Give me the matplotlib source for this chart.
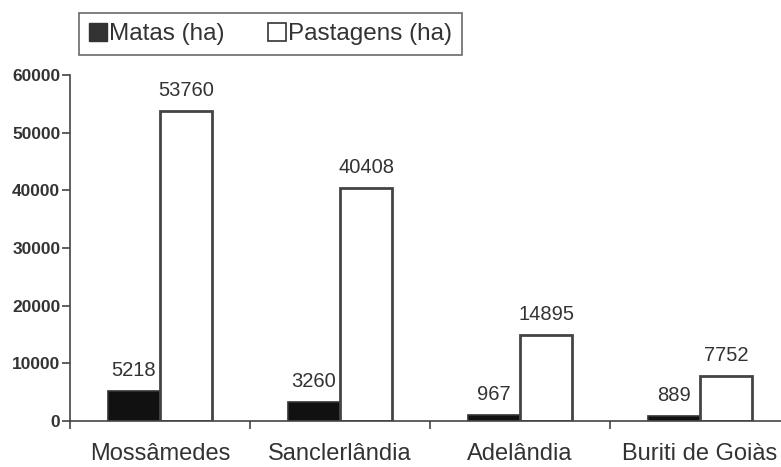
import matplotlib
matplotlib.use("Agg")
import matplotlib.pyplot as plt
from matplotlib.patches import Patch
import numpy as np

categories = ["Mossâmedes", "Sanclerlândia", "Adelândia", "Buriti de Goiàs"]
matas = [5218, 3260, 967, 889]
pastagens = [53760, 40408, 14895, 7752]
yticks = [0, 10000, 20000, 30000, 40000, 50000, 60000]

plt.rcParams["font.family"] = ["Liberation Sans", "DejaVu Sans"]

TXT = "#333333"
LINE = "#444444"

fig = plt.figure(figsize=(7.81, 4.67), dpi=100)
ax = fig.add_axes([70/781, 1-421/467, 720/781, 346/467])

x = np.arange(len(categories))
w = 0.29
b1 = ax.bar(x - w/2, matas, w, color="#111111", edgecolor="#333333", linewidth=1.2)
b2 = ax.bar(x + w/2, pastagens, w, color="white", edgecolor=LINE, linewidth=2)

for bars, vals in ((b1, matas), (b2, pastagens)):
    for rect, v in zip(bars, vals):
        ax.annotate(str(v), (rect.get_x() + rect.get_width()/2, v), xytext=(0, 15),
                    textcoords="offset points", ha="center", va="center",
                    fontsize=14.5, color=TXT)

ax.set_xlim(-0.5, 3.5)
ax.set_ylim(0, 60000)
ax.set_yticks(yticks)
ax.set_yticklabels([str(t) for t in yticks], fontsize=12.5, fontweight="bold", color=TXT)
ax.set_xticks(x)
ax.set_xticklabels(categories, fontsize=17, color=TXT)
ax.tick_params(axis="x", length=0, pad=16)
ax.set_xticks(np.arange(-0.5, 3.6, 1.0), minor=True)
ax.tick_params(axis="x", which="minor", length=6, width=1.2, color=LINE, direction="out")
ax.tick_params(axis="y", length=6, width=1.2, color=LINE, direction="out", pad=1)

for s in ["top", "right"]:
    ax.spines[s].set_visible(False)
for s in ["left", "bottom"]:
    ax.spines[s].set_color(LINE)
    ax.spines[s].set_linewidth(1.2)

handles = [Patch(facecolor="#333333", edgecolor="#333333"),
           Patch(facecolor="white", edgecolor="#333333", linewidth=1.2)]
leg = fig.legend(handles, ["Matas (ha)", "Pastagens (ha)"], loc="upper left",
                 bbox_to_anchor=(79/781, 1-59/467, 383/781, 46/467), mode="expand",
                 ncol=2, fontsize=17.5,
                 handlelength=0.75, handleheight=0.75, handletextpad=0.1,
                 columnspacing=0.8, frameon=True, fancybox=False,
                 borderpad=0.4, borderaxespad=0, labelcolor=TXT)
leg.get_frame().set_edgecolor(LINE)
leg.get_frame().set_linewidth(1.2)

fig.savefig("out.png", dpi=100)
